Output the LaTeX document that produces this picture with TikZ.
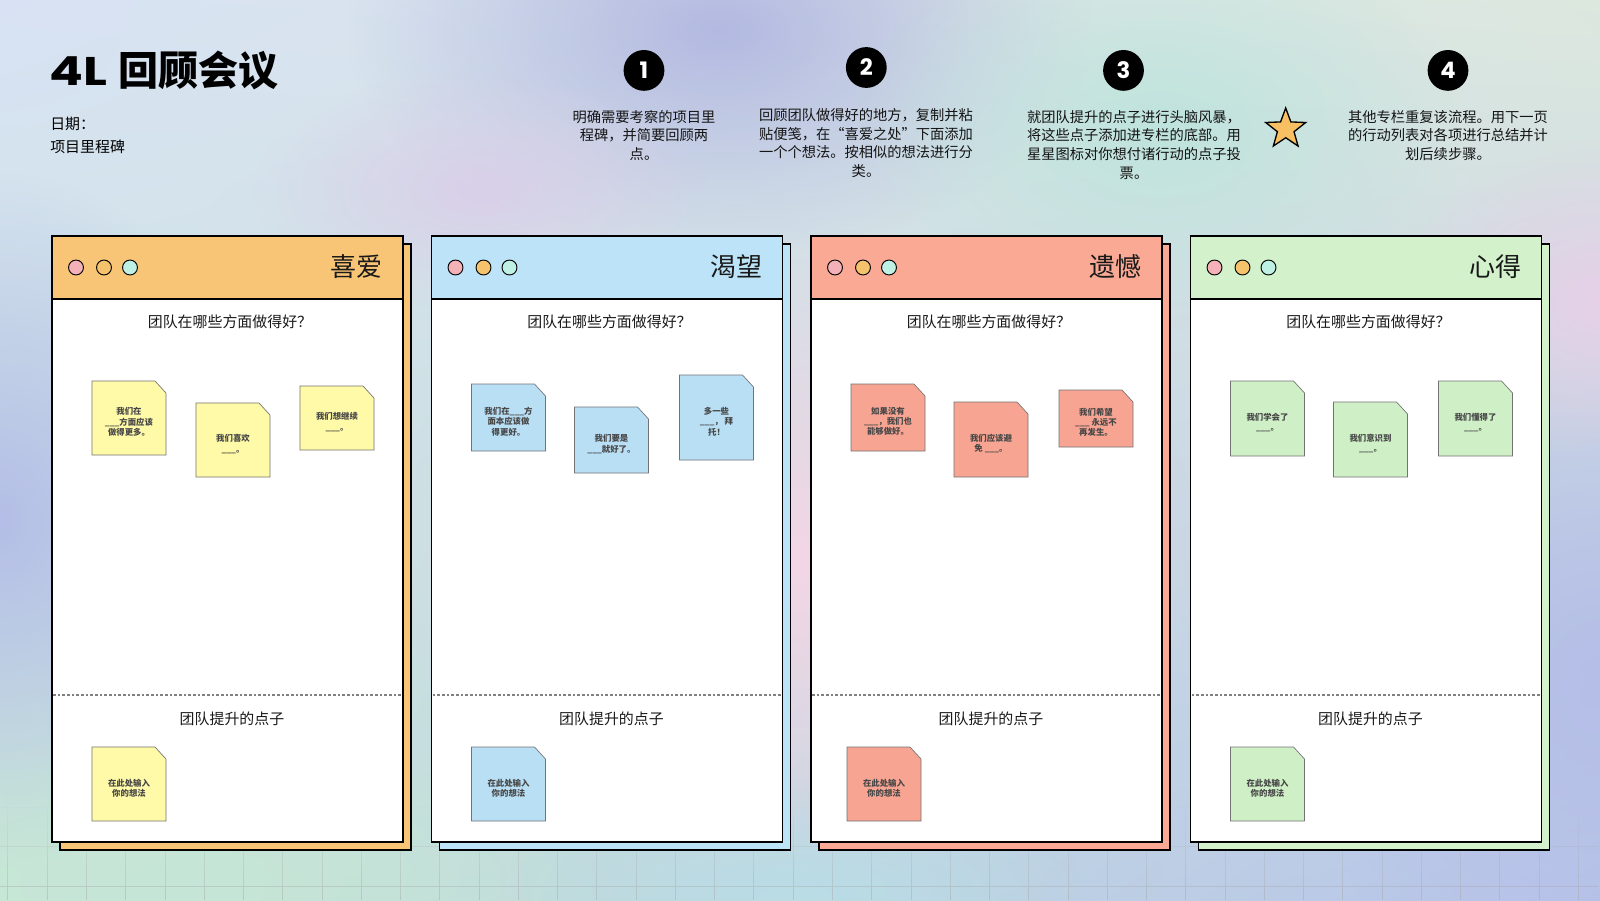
\documentclass[tikz,border=0pt]{standalone}
\usepackage{fontspec}
\setmainfont{Noto Sans CJK SC}
\newfontfamily\pop{Poppins}
\usetikzlibrary{shapes.geometric,fadings,shadings}
\tikzfading[name=blob, inner color=transparent!0, outer color=transparent!100]
\tikzfading[name=gridfade, top color=transparent!100, bottom color=transparent!55]
\definecolor{bgTL}{HTML}{D8E2F4}
\definecolor{bgTR}{HTML}{DCE8DE}
\definecolor{bgBL}{HTML}{C6E6D6}
\definecolor{bgBR}{HTML}{B8C4EA}
\definecolor{blobLav}{HTML}{B3B9E1}
\definecolor{blobMint}{HTML}{BFE4DD}
\definecolor{blobPink}{HTML}{F4D6E6}
\definecolor{blobBlue}{HTML}{B4BEE7}
\definecolor{blobRose}{HTML}{E6D0E8}
\definecolor{blobLila}{HTML}{D9CFE8}
\definecolor{blobCyan}{HTML}{B9DDE6}
\definecolor{hdOrange}{HTML}{F8C476}
\definecolor{hdBlue}{HTML}{BDE3F8}
\definecolor{hdSalmon}{HTML}{F9A994}
\definecolor{hdGreen}{HTML}{D3F2CB}
\definecolor{ntYellow}{HTML}{FFFAA8}
\definecolor{ntBlue}{HTML}{B9DFF5}
\definecolor{ntSalmon}{HTML}{F7A592}
\definecolor{ntGreen}{HTML}{CFF0C7}
\definecolor{dotPink}{HTML}{F5B1B8}
\definecolor{dotOrange}{HTML}{F5C36C}
\definecolor{dotMint}{HTML}{BEF0E3}
\definecolor{starFill}{HTML}{F8C063}
\tikzset{
  cardline/.style={draw=black, line width=1.1pt},
  dotnode/.style={circle, draw=black, line width=0.7pt, minimum size=11.2pt, inner sep=0pt},
  headlabel/.style={font=\fontsize{19.5}{22}\selectfont, text=black!90, inner sep=0pt, anchor=east},
  question/.style={font=\fontsize{11.2}{13}\selectfont, text=black!90, inner sep=0pt},
  notebox/.style={draw=black!55, line width=0.5pt},
  notetext/.style={font=\fontsize{6.3}{7.7}\selectfont\bfseries, text=black!72, align=center, inner sep=0pt},
  steptext/.style={font=\fontsize{10.7}{14}\selectfont, text=black!92, align=center, inner sep=0pt, anchor=north},
  stepnum/.style={circle, fill=black, minimum size=30.6pt, inner sep=0pt, text=white, font=\pop\bfseries\fontsize{17}{17}\selectfont},
  dashsep/.style={draw=black!50, line width=0.8pt, dash pattern=on 2pt off 1.5pt},
  gridline/.style={draw=black!35, line width=0.5pt},
}
\newcommand\stickynote[6]{%
  \draw[notebox, fill=#5] (#2,#3) -- ++(63,0) -- ++(11,12) -- ++(0,#4-12) -- ++(-74,0) -- cycle;
  \node[notetext] (#1) at (#2+37,#3+#4/2+4) {#6};
}
\newcommand\retrocard[4]{%
  \draw[cardline, fill=#3] (#2+8,244) rectangle (#2+359,850);
  \draw[cardline, fill=white] (#2,236) rectangle (#2+351,842);
  \draw[cardline, fill=#3] (#2,236) rectangle (#2+351,299);
  \node[dotnode, fill=dotPink] (#1d1) at (#2+24,267.5) {};
  \node[dotnode, fill=dotOrange] (#1d2) at (#2+52,267.5) {};
  \node[dotnode, fill=dotMint] (#1d3) at (#2+78,267.5) {};
  \node[headlabel] (#1t) at (#2+331,267) {#4};
  \node[question] (#1q) at (#2+178,322) {团队在哪些方面做得好？};
  \draw[dashsep] (#2+1,695) -- (#2+350,695);
  \node[question] (#1i) at (#2+180,719) {团队提升的点子};
}
\begin{document}
\begin{tikzpicture}[x=0.75pt,y=-0.75pt]
\useasboundingbox (0,0) rectangle (1600,900);
% background
\begin{scope}
\clip (0,0) rectangle (1600,900);
\fill[upper left=bgTL, upper right=bgTR, lower left=bgBL, lower right=bgBR] (0,0) rectangle (1600,900);
\fill[blobLav, path fading=blob] (720,30) ellipse [x radius=280pt, y radius=170pt];
\fill[blobMint, path fading=blob] (1160,130) ellipse [x radius=230pt, y radius=150pt];
\fill[blobLila, path fading=blob] (480,190) ellipse [x radius=170pt, y radius=90pt];
\fill[blobPink, path fading=blob] (800,560) ellipse [x radius=300pt, y radius=250pt];
\fill[blobBlue, path fading=blob] (0,520) ellipse [x radius=200pt, y radius=260pt];
\fill[blobBlue, path fading=blob] (1600,680) ellipse [x radius=230pt, y radius=260pt];
\fill[blobRose, path fading=blob] (1600,300) ellipse [x radius=150pt, y radius=120pt];
\fill[bgBL, path fading=blob] (200,880) ellipse [x radius=320pt, y radius=110pt];
\fill[blobCyan, path fading=blob] (800,900) ellipse [x radius=220pt, y radius=90pt];
\draw[gridline, path fading=gridfade]
  \foreach \i in {-2,...,38} {(87.3+39.3*\i,800) -- (87.3+39.3*\i,900)}
  (0,807) -- (1600,807) (0,846.5) -- (1600,846.5) (0,886) -- (1600,886);
\end{scope}
% title
\node[anchor=west, inner sep=0pt, font=\fontsize{30}{32}\selectfont\bfseries] (title) at (49,70) {\scalebox{1.25}[1]{\pop\bfseries 4L}\hspace{2pt} 回顾会议};
\node[anchor=west, inner sep=0pt, font=\fontsize{11.2}{13}\selectfont] (date) at (50,123.5) {日期：};
\node[anchor=west, inner sep=0pt, font=\fontsize{11.2}{13}\selectfont] (milestone) at (50,147) {项目里程碑};
% steps
\node[stepnum] (s1) at (644,70.4) {1};
\node[stepnum] (s2) at (866.3,67.5) {2};
\node[stepnum] (s3) at (1123.5,70.4) {3};
\node[stepnum] (s4) at (1448,70.4) {4};
\node[steptext] (t1) at (644,110) {明确需要考察的项目里\\程碑，并简要回顾两\\点。};
\node[steptext] (t2) at (866,108) {回顾团队做得好的地方，复制并粘\\贴便笺，在“喜爱之处”下面添加\\一个个想法。按相似的想法进行分\\类。};
\node[steptext] (t3) at (1134,110) {就团队提升的点子进行头脑风暴，\\将这些点子添加进专栏的底部。用\\星星图标对你想付诸行动的点子投\\票。};
\node[steptext] (t4) at (1448,110) {其他专栏重复该流程。用下一页\\的行动列表对各项进行总结并计\\划后续步骤。};
\node[star, star points=5, star point ratio=2.4, draw=black, line width=1pt, fill=starFill, minimum size=31.5pt, inner sep=0pt] (star) at (1285.7,129) {};
% cards
\retrocard{c1}{52}{hdOrange}{喜爱}
\retrocard{c2}{431.5}{hdBlue}{渴望}
\retrocard{c3}{811}{hdSalmon}{遗憾}
\retrocard{c4}{1190.5}{hdGreen}{心得}
% notes card 1
\stickynote{n1a}{52+40}{381}{74}{ntYellow}{我们在\\\_\_\_方面应该\\做得更多。}
\stickynote{n1b}{52+144}{403}{74}{ntYellow}{我们喜欢\\\_\_\_。}
\stickynote{n1c}{52+248}{386}{64}{ntYellow}{我们想继续\\\_\_\_。}
\stickynote{n1d}{52+40}{747}{74}{ntYellow}{在此处输入\\你的想法}
% notes card 2
\stickynote{n2a}{431.5+40}{384}{67}{ntBlue}{我们在\_\_\_方\\面本应该做\\得更好。}
\stickynote{n2b}{431.5+143}{407}{66}{ntBlue}{我们要是\\\_\_\_就好了。}
\stickynote{n2c}{431.5+248}{375}{85}{ntBlue}{多一些\\\_\_\_， 拜\\托！}
\stickynote{n2d}{431.5+40}{747}{74}{ntBlue}{在此处输入\\你的想法}
% notes card 3
\stickynote{n3a}{811+40}{384}{67}{ntSalmon}{如果没有\\\_\_\_，我们也\\能够做好。}
\stickynote{n3b}{811+143}{402}{75}{ntSalmon}{我们应该避\\免 \_\_\_。}
\stickynote{n3c}{811+248}{390}{57}{ntSalmon}{我们希望\\\_\_\_ 永远不\\再发生。}
\stickynote{n3d}{811+36}{747}{74}{ntSalmon}{在此处输入\\你的想法}
% notes card 4
\stickynote{n4a}{1190.5+40}{381}{75}{ntGreen}{我们学会了\\\_\_\_。}
\stickynote{n4b}{1190.5+143}{402}{75}{ntGreen}{我们意识到\\\_\_\_。}
\stickynote{n4c}{1190.5+248}{381}{75}{ntGreen}{我们懂得了\\\_\_\_。}
\stickynote{n4d}{1190.5+40}{747}{74}{ntGreen}{在此处输入\\你的想法}
\end{tikzpicture}
\end{document}
